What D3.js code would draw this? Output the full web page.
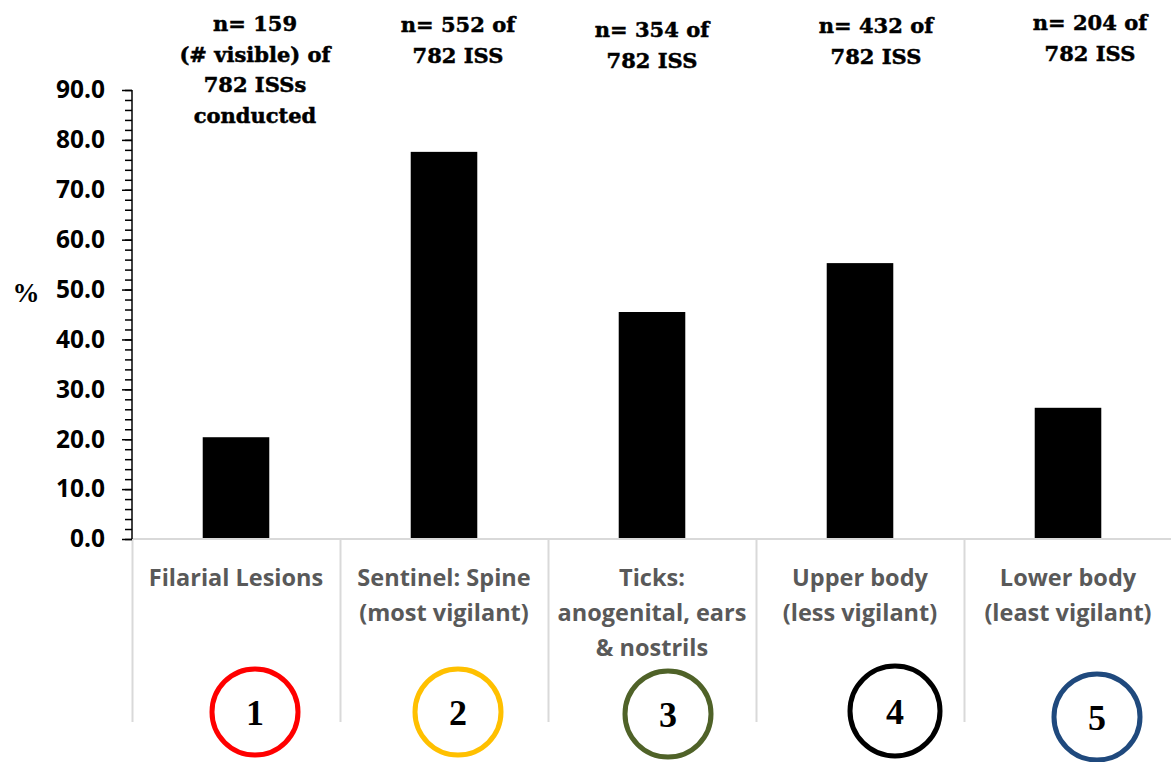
<!DOCTYPE html>
<html>
<head>
<meta charset="utf-8">
<script src="https://cdn.jsdelivr.net/npm/d3@7"></script>
<style>
  body { margin: 0; background: #fff; }
  svg { display: block; }
</style>
</head>
<body>
<div class="chart"></div>
<script>
// data
const categories = ['Filarial Lesions', 'Sentinel: Spine', 'Ticks', 'Upper body', 'Lower body'];
const categoryLines = [
    ['Filarial Lesions'],
    ['Sentinel: Spine', '(most vigilant)'],
    ['Ticks:', 'anogenital, ears', '& nostrils'],
    ['Upper body', '(less vigilant)'],
    ['Lower body', '(least vigilant)']
];
const values = [20.4, 77.6, 45.5, 55.3, 26.3];
const nLabels = [
    ['n= 159', '(# visible) of', '782 ISSs', 'conducted'],
    ['n= 552 of', '782 ISS'],
    ['n= 354 of', '782 ISS'],
    ['n= 432 of', '782 ISS'],
    ['n= 204 of', '782 ISS']
];
const markerNumbers = ['1', '2', '3', '4', '5'];
const markerColors = ['#ff0000', '#ffc000', '#4f6228', '#000000', '#1f497d'];
const yTicks = [0, 10, 20, 30, 40, 50, 60, 70, 80, 90];

// layout
const outerWidth = 1171;
const outerHeight = 762;
const plot = { left: 132, right: 1172, top: 90, bottom: 539 };
const noteShift = [19, 14, 0, 16, 22];
const noteTop = [31, 32, 37, 33, 30];
const circleShift = [19, 14, 16, 35, 29];
const circleY = [712, 712, 714, 711, 717];
const circleR = [43, 43, 43, 45, 43];

const svg = d3.select('.chart').append('svg')
    .attr('width', outerWidth)
    .attr('height', outerHeight);

// Scales
const x = d3.scaleBand().domain(categories).range([plot.left, plot.right]).padding(0);
const y = d3.scaleLinear().domain([0, 90]).range([plot.bottom, plot.top]);
const barWidth = x.bandwidth() * 0.32;

// Category separators
svg.append('g')
    .selectAll('line')
    .data(categories)
    .join('line')
    .attr('x1', d => x(d) + 0.5)
    .attr('x2', d => x(d) + 0.5)
    .attr('y1', plot.bottom)
    .attr('y2', 722)
    .attr('stroke', '#d9d9d9')
    .attr('stroke-width', 2);

// Bars
svg.append('g')
    .selectAll('rect')
    .data(values)
    .join('rect')
    .attr('x', (d, i) => x(categories[i]) + (x.bandwidth() - barWidth) / 2)
    .attr('y', d => y(d))
    .attr('width', barWidth)
    .attr('height', d => y(0) - y(d))
    .attr('fill', '#000');

// X baseline
svg.append('line')
    .attr('x1', plot.left)
    .attr('x2', plot.right)
    .attr('y1', plot.bottom)
    .attr('y2', plot.bottom)
    .attr('stroke', '#d9d9d9')
    .attr('stroke-width', 2);

// Y axis, minor ticks first
const minorAxis = d3.axisLeft(y).tickValues(d3.range(0, 91, 2)).tickSize(7).tickFormat('');
svg.append('g')
    .attr('transform', `translate(${plot.left}, 0)`)
    .call(minorAxis)
    .call(g => g.selectAll('line').attr('stroke', '#000').attr('stroke-width', 1.5))
    .call(g => g.select('.domain').remove());

const yAxis = d3.axisLeft(y).tickValues(yTicks).tickSize(10).tickPadding(17).tickFormat(d3.format('.1f'));
svg.append('g')
    .attr('transform', `translate(${plot.left}, 0)`)
    .call(yAxis)
    .call(g => g.select('.domain').attr('stroke', '#000').attr('stroke-width', 1.5).attr('d', `M0,${plot.top}V${plot.bottom}`))
    .call(g => g.selectAll('line').attr('stroke', '#000').attr('stroke-width', 1.5))
    .call(g => g.selectAll('text')
        .attr('font-family', '"Open Sans", sans-serif')
        .attr('font-weight', 700)
        .attr('font-size', 24.5)
        .attr('fill', '#000'));

// Y label
svg.append('text')
    .attr('x', 26)
    .attr('y', 302)
    .attr('text-anchor', 'middle')
    .attr('font-family', '"Liberation Serif", serif')
    .attr('font-weight', 700)
    .attr('font-size', 27)
    .text('%');

// Category labels
svg.append('g')
    .selectAll('text')
    .data(categoryLines)
    .join('text')
    .attr('text-anchor', 'middle')
    .attr('font-family', '"Open Sans", sans-serif')
    .attr('font-weight', 700)
    .attr('font-size', 23.5)
    .attr('fill', '#595959')
    .each(function(lines, i) {
        d3.select(this).selectAll('tspan')
            .data(lines)
            .join('tspan')
            .attr('x', x(categories[i]) + x.bandwidth() / 2)
            .attr('y', (d, j) => 586 + j * 35)
            .text(d => d);
    });

// n= notes above bars
svg.append('g')
    .selectAll('text')
    .data(nLabels)
    .join('text')
    .attr('text-anchor', 'middle')
    .attr('font-family', '"DejaVu Serif", serif')
    .attr('font-weight', 700)
    .attr('font-size', 21)
    .attr('fill', '#000')
    .attr('stroke', '#000')
    .attr('stroke-width', 0.5)
    .each(function(lines, i) {
        d3.select(this).selectAll('tspan')
            .data(lines)
            .join('tspan')
            .attr('x', x(categories[i]) + x.bandwidth() / 2 + noteShift[i])
            .attr('y', (d, j) => noteTop[i] + j * 30.5)
            .text(d => d);
    });

// Numbered circles
const markers = svg.append('g')
    .selectAll('g')
    .data(markerNumbers)
    .join('g')
    .attr('transform', (d, i) => `translate(${x(categories[i]) + x.bandwidth() / 2 + circleShift[i]}, ${circleY[i]})`);

markers.append('circle')
    .attr('r', (d, i) => circleR[i])
    .attr('fill', 'none')
    .attr('stroke', (d, i) => markerColors[i])
    .attr('stroke-width', 5);

markers.append('text')
    .attr('text-anchor', 'middle')
    .attr('y', 13)
    .attr('font-family', '"Liberation Serif", serif')
    .attr('font-weight', 700)
    .attr('font-size', 36)
    .text(d => d);
</script>
</body>
</html>
